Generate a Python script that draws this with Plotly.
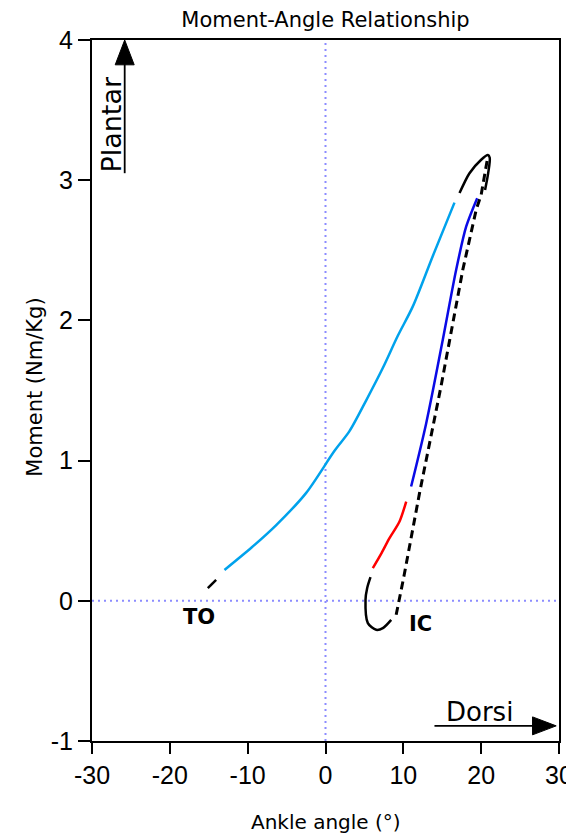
import plotly.graph_objects as go

# ---- data ----
lightblue_x = [-12.98, -9.5, -6.33, -2.48, 1.16, 3.08, 5.23, 7.36, 9.29, 11.22, 13.79, 16.57]
lightblue_y = [0.22, 0.38, 0.54, 0.77, 1.07, 1.21, 1.43, 1.66, 1.89, 2.10, 2.46, 2.84]

blue_x = [11.0, 12.94, 15.07, 16.79, 18.08, 19.49]
blue_y = [0.815, 1.267, 1.862, 2.361, 2.670, 2.872]

red_x = [6.08, 7.2, 8.22, 9.51, 10.37]
red_y = [0.233, 0.34, 0.447, 0.566, 0.708]

loop_x = [5.78, 5.35, 5.14, 5.44, 6.51, 7.37, 8.44]
loop_y = [0.169, 0.09, 0.007, -0.159, -0.207, -0.195, -0.136]

dashed_x = [9.08, 10.07, 12.08, 14.84, 17.64, 19.36, 20.0, 20.86]
dashed_y = [-0.10, 0.173, 0.768, 1.529, 2.361, 2.789, 2.896, 3.169]

top_x = [17.22, 18.5, 20.0, 20.86, 21.1, 20.9, 20.5]
top_y = [2.908, 3.05, 3.146, 3.18, 3.16, 3.05, 2.93]

to_x = [-15.12, -14.05]
to_y = [0.09, 0.15]

x_ticks = [-30, -20, -10, 0, 10, 20, 30]
y_ticks = [-1, 0, 1, 2, 3, 4]

TXT = "DejaVu Sans"
NUM = "Liberation Sans, Arial"

fig = go.Figure()

def add_line(x, y, color, width=2.5, dash=None, curved=False):
    line = dict(color=color, width=width, dash=dash)
    if curved:
        line.update(shape="spline", smoothing=0.8)
    fig.add_trace(go.Scatter(x=x, y=y, mode="lines", showlegend=False,
                             line=line, hoverinfo="skip"))

add_line(lightblue_x, lightblue_y, "#00A2EC", curved=True)
add_line(blue_x, blue_y, "#0A0AE6", curved=True)
add_line(red_x, red_y, "#FF0000", curved=True)
add_line(loop_x, loop_y, "#000000", curved=True)
add_line(dashed_x, dashed_y, "#000000", width=3, dash="8px,5px")
add_line(top_x, top_y, "#000000", curved=True)
add_line(to_x, to_y, "#000000", width=2.5)

shapes = [
    # dotted reference lines at 0
    dict(type="line", xref="x", yref="y", x0=0, x1=0, y0=-1, y1=4,
         line=dict(color="#8C8CFF", width=2, dash="2px,4px"), layer="below"),
    dict(type="line", xref="x", yref="y", x0=-30, x1=30, y0=0, y1=0,
         line=dict(color="#8C8CFF", width=2, dash="2px,4px"), layer="below"),
    # Plantar arrow
    dict(type="line", xref="x", yref="y", x0=-25.8, x1=-25.8, y0=3.05, y1=3.83,
         line=dict(color="black", width=1.8)),
    dict(type="path", xref="x", yref="y",
         path="M -25.8 4.0 L -27.02 3.823 L -24.58 3.823 Z",
         fillcolor="black", line=dict(color="black", width=1)),
    # Dorsi arrow
    dict(type="line", xref="x", yref="y", x0=14.0, x1=26.7, y0=-0.892, y1=-0.892,
         line=dict(color="black", width=1.8)),
    dict(type="path", xref="x", yref="y",
         path="M 29.64 -0.892 L 26.6 -0.828 L 26.6 -0.956 Z",
         fillcolor="black", line=dict(color="black", width=1)),
]

annotations = [
    dict(text="Plantar", x=-27.5, y=3.40, xref="x", yref="y", showarrow=False,
         textangle=-90, font=dict(family=TXT, size=27, color="black"),
         xanchor="center", yanchor="middle"),
    dict(text="Dorsi", x=19.79, y=-0.792, xref="x", yref="y", showarrow=False,
         font=dict(family=TXT, size=26, color="black"),
         xanchor="center", yanchor="middle"),
    dict(text="<b>TO</b>", x=-16.19, y=-0.114, xref="x", yref="y", showarrow=False,
         font=dict(family=TXT, size=21, color="black"),
         xanchor="center", yanchor="middle"),
    dict(text="<b>IC</b>", x=12.25, y=-0.164, xref="x", yref="y", showarrow=False,
         font=dict(family=TXT, size=21, color="black"),
         xanchor="center", yanchor="middle"),
    dict(text="Ankle angle (°)", x=0.5, y=0, xref="paper", yref="paper", showarrow=False,
         font=dict(family=TXT, size=20, color="black"),
         xanchor="center", yanchor="middle", yshift=-81),
    dict(text="Moment (Nm/Kg)", x=0, y=0.504, xref="paper", yref="paper", showarrow=False,
         textangle=-90, font=dict(family=TXT, size=21, color="black"),
         xanchor="center", yanchor="middle", xshift=-57),
]

# page body adds an 8px offset; the figure is shifted accordingly
W, H = 574, 836
fig.update_layout(
    width=W, height=H,
    margin=dict(l=84, r=23, t=32, b=103),
    paper_bgcolor="white", plot_bgcolor="white",
    showlegend=False,
    title=dict(text="Moment-Angle Relationship", x=0.5, xref="paper",
               y=1 - 12 / H, yref="container", xanchor="center", yanchor="middle",
               font=dict(family=TXT, size=21, color="black")),
    shapes=shapes,
    annotations=annotations,
    xaxis=dict(range=[-30, 30], tickvals=x_ticks, ticktext=[str(v) for v in x_ticks],
               automargin=False,
               showgrid=False, zeroline=False, showline=True, mirror=True,
               linecolor="black", linewidth=2, ticks="outside", ticklen=11,
               tickwidth=2, tickcolor="black",
               tickfont=dict(family=NUM, size=25, color="black")),
    yaxis=dict(range=[-1, 4], tickvals=y_ticks, ticktext=[str(v) for v in y_ticks],
               automargin=False,
               showgrid=False, zeroline=False, showline=True, mirror=True,
               linecolor="black", linewidth=2, ticks="outside", ticklen=12,
               tickwidth=2, tickcolor="black",
               tickfont=dict(family=NUM, size=25, color="black")),
)

fig.write_html("out.html")
